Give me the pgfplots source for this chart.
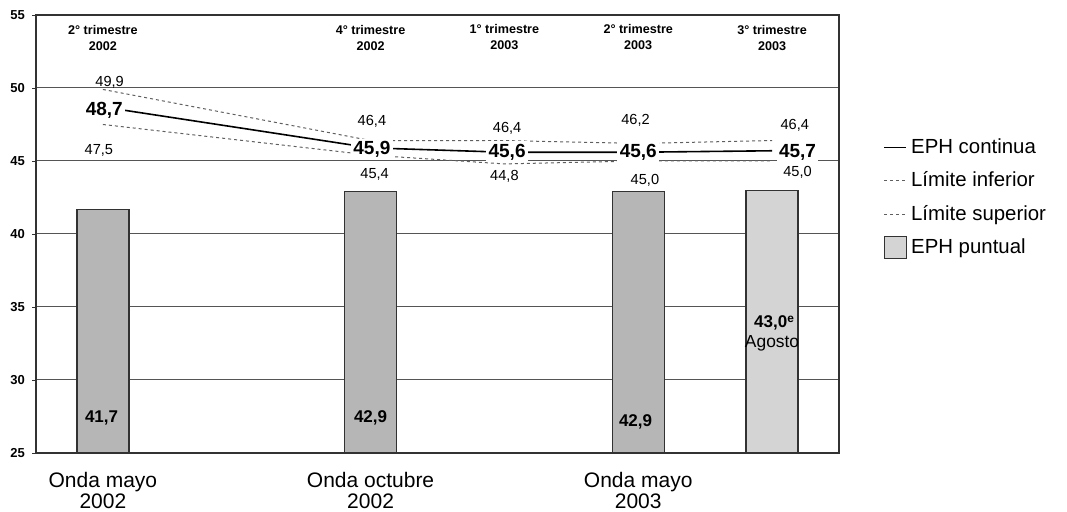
\documentclass[border=0pt]{standalone}
\usepackage{fontspec}
\setmainfont{Liberation Sans}
\usepackage{pgfplots}
\pgfplotsset{compat=1.18}
\definecolor{gridc}{RGB}{85,85,85}
\definecolor{framec}{RGB}{50,50,50}
\definecolor{bara}{RGB}{182,182,182}
\definecolor{barb}{RGB}{212,212,212}
\definecolor{dotc}{RGB}{95,95,95}
\begin{document}
\begin{tikzpicture}
\useasboundingbox (0,0) rectangle (533.5pt,256pt);
\begin{axis}[
  at={(18pt,29.5pt)}, anchor=south west,
  scale only axis, width=401.5pt, height=219pt,
  xmin=-0.5, xmax=5.5, ymin=25, ymax=55,
  ytick={25,30,35,40,45,50,55},
  ytick pos=left,
  xtick={0,2,4},
  xticklabels={{Onda mayo\\2002},{Onda octubre\\2002},{Onda mayo\\2003}},
  xticklabel style={align=center, font=\fontsize{10.5}{10.6}\selectfont, yshift=-4pt},
  major x tick style={draw=none},
  yticklabel style={font=\fontsize{6.5}{7}\selectfont\bfseries},
  /pgf/number format/assume math mode=true,
  tick align=outside, major tick length=2pt,
  ymajorgrids, grid style={gridc, line width=0.5pt},
  axis line style={framec, line width=0.7pt},
  every tick/.style={framec},
  legend style={draw=none, fill=none, at={(1.055,0.728)}, anchor=north west,
    font=\fontsize{10.2}{12}\selectfont, row sep=3.7pt, inner sep=0pt},
  legend cell align=left,
  legend image code/.code={\draw[#1] (0pt,0pt) -- (11pt,0pt);},
]
\addplot[black, line width=0.8pt, forget plot] coordinates {(0,48.7) (2,45.9) (3,45.6) (4,45.6) (5,45.7)};
\addplot[dotc, line width=0.5pt, dash pattern=on 1.5pt off 1.5pt, forget plot] coordinates {(0,47.5) (2,45.4) (3,44.8) (4,45.0) (5,45.0)};
\addplot[dotc, line width=0.5pt, dash pattern=on 1.5pt off 1.5pt, forget plot] coordinates {(0,49.9) (2,46.4) (3,46.4) (4,46.2) (5,46.4)};
\addplot[ybar, bar width=26pt, bar shift=0pt, fill=bara, draw=framec, line width=0.6pt, forget plot] coordinates {(0,41.7) (2,42.9) (4,42.9)};
\addplot[ybar, bar width=26pt, bar shift=0pt, fill=barb, draw=framec, line width=0.6pt, forget plot] coordinates {(5,43.0)};

\addlegendimage{black, line width=0.8pt}
\addlegendentry{EPH continua}
\addlegendimage{dotc, line width=0.5pt, dash pattern=on 1.5pt off 1.5pt}
\addlegendentry{Límite inferior}
\addlegendimage{dotc, line width=0.5pt, dash pattern=on 1.5pt off 1.5pt}
\addlegendentry{Límite superior}
\addlegendimage{legend image code/.code={\draw[fill=barb, draw=framec, line width=0.6pt] (0pt,-5.5pt) rectangle (11pt,5.5pt);}}
\addlegendentry{EPH puntual}

% main line labels
\begin{scope}[every node/.style={font=\fontsize{9.5}{10}\selectfont\bfseries, fill=white, inner sep=1.2pt}]
\node at (axis cs:0.01,48.49) {48,7};
\node at (axis cs:2.01,45.82) {45,9};
\node at (axis cs:3.02,45.62) {45,6};
\node at (axis cs:4.0,45.62) {45,6};
\node at (axis cs:5.19,45.62) {45,7};
\end{scope}
% limit labels
\begin{scope}[every node/.style={font=\fontsize{7.3}{8}\selectfont, inner sep=0pt}]
\node at (axis cs:0.05,50.41) {49,9};
\node at (axis cs:-0.03,45.75) {47,5};
\node at (axis cs:2.01,47.74) {46,4};
\node at (axis cs:2.03,44.11) {45,4};
\node at (axis cs:3.02,47.26) {46,4};
\node at (axis cs:3.0,43.97) {44,8};
\node at (axis cs:3.98,47.81) {46,2};
\node at (axis cs:4.05,43.70) {45,0};
\node at (axis cs:5.17,47.47) {46,4};
\node at (axis cs:5.19,44.25) {45,0};
\end{scope}
% quarter labels
\begin{scope}[every node/.style={font=\fontsize{6.3}{8}\selectfont\bfseries, align=center, inner sep=0pt}]
\node at (axis cs:0,53.42) {2° trimestre\\2002};
\node at (axis cs:2,53.42) {4° trimestre\\2002};
\node at (axis cs:3,53.5) {1° trimestre\\2003};
\node at (axis cs:4,53.5) {2° trimestre\\2003};
\node at (axis cs:5,53.42) {3° trimestre\\2003};
\end{scope}
% bar labels
\begin{scope}[every node/.style={font=\fontsize{8.5}{9}\selectfont\bfseries, inner sep=0pt}]
\node at (axis cs:-0.01,27.4) {41,7};
\node at (axis cs:2.0,27.4) {42,9};
\node at (axis cs:3.98,27.15) {42,9};
\node at (axis cs:4.99,33.9) {43,0\rlap{\textsuperscript{e}}};
\end{scope}
\node[font=\fontsize{8.7}{9}\selectfont, inner sep=0pt] at (axis cs:5.0,32.53) {Agosto};
\end{axis}
\end{tikzpicture}
\end{document}
